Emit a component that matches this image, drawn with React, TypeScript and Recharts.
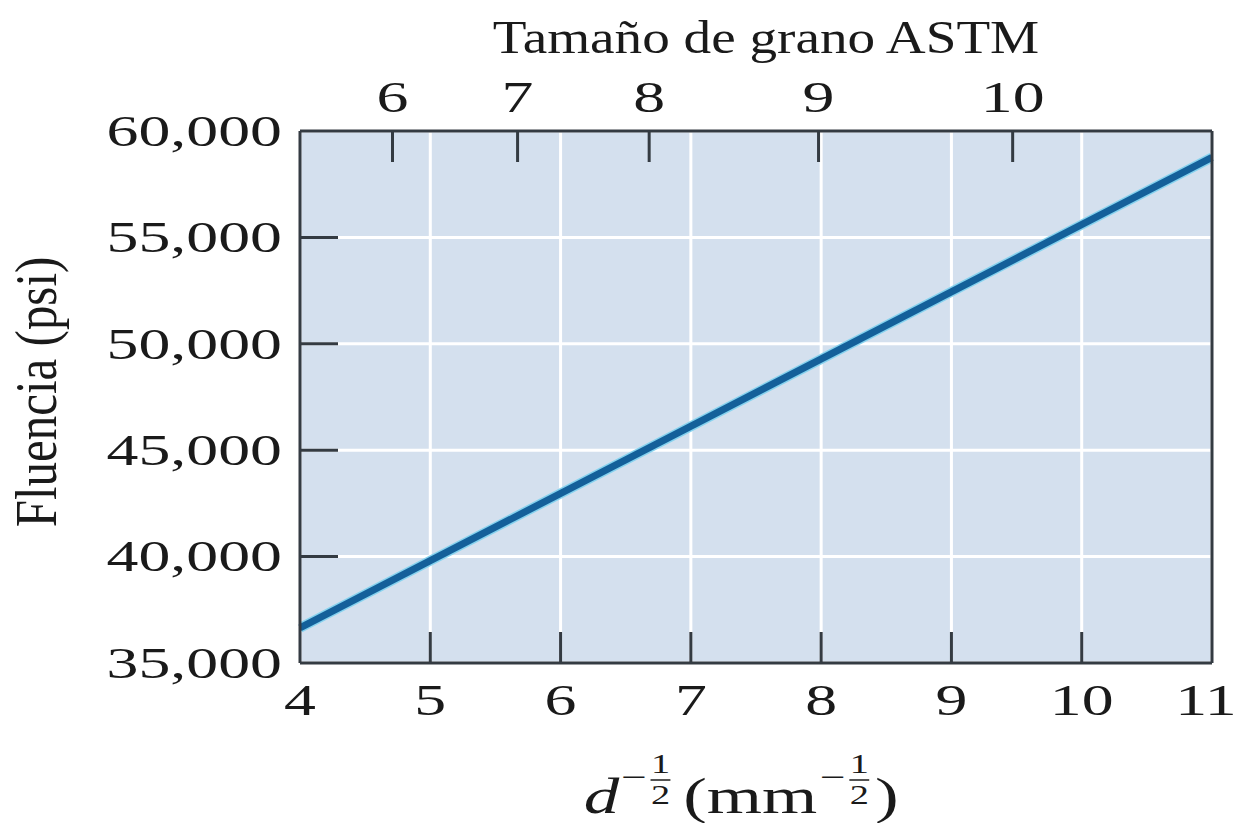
import React from 'react';
import {
  ComposedChart,
  Line,
  XAxis,
  YAxis,
  CartesianGrid,
} from 'recharts';

// d^-1/2 (mm^-1/2) vs yield strength (psi), straight Hall-Petch line
const dInv = [4, 11];
const yieldPsi = [36650, 58760];

const xTicks = [4, 5, 6, 7, 8, 9, 10, 11];
const yTicks = [35000, 40000, 45000, 50000, 55000, 60000];

// ASTM grain size numbers placed on the top axis at their d^-1/2 position
const astmPos = [4.71, 5.67, 6.68, 7.98, 9.47];
const astmLabels = ['6', '7', '8', '9', '10'];

const data = dInv.map((x, i) => ({ x, y: yieldPsi[i] }));

const FONT = '"Liberation Serif", "DejaVu Serif", serif';
const INK = '#1a1a1a';
const AXIS = '#343b42';
const STRETCH = 1.45;

// wide serif text, the print is squashed horizontally by STRETCH
function Wide({ x, y, size, anchor, children, sx = STRETCH }: any) {
  return (
    <g transform={`translate(${x},${y}) scale(${sx},1)`}>
      <text
        x={0}
        y={0}
        fontFamily={FONT}
        fontSize={size}
        fill={INK}
        textAnchor={anchor}
        dominantBaseline="central"
      >
        {children}
      </text>
    </g>
  );
}

const fmt = (v: number) => v.toLocaleString('en-US');

const BottomTick = ({ x, y, payload }: any) => {
  const v = payload.value;
  // last label is pulled in a little so it stays on the page
  const tx = v === 11 ? x - 6 : x;
  return (
    <g>
      {v > 4 && v < 11 && (
        <line x1={x} x2={x} y1={y} y2={y - 31} stroke={AXIS} strokeWidth={3} />
      )}
      <Wide x={tx} y={y + 37} size={44} anchor="middle">
        {v}
      </Wide>
    </g>
  );
};

const LeftTick = ({ x, y, payload }: any) => (
  <g>
    {payload.value > 35000 && payload.value < 60000 && (
      <line x1={x} x2={x + 38} y1={y} y2={y} stroke={AXIS} strokeWidth={3} />
    )}
    <Wide x={x - 18} y={y} size={44} anchor="end">
      {fmt(payload.value)}
    </Wide>
  </g>
);

const TopTick = ({ x, y, index }: any) => (
  <g>
    <line x1={x} x2={x} y1={y} y2={y + 31} stroke={AXIS} strokeWidth={3} />
    <Wide x={x} y={y - 34} size={44} anchor="middle">
      {astmLabels[index]}
    </Wide>
  </g>
);

const TopTitle = ({ viewBox }: any) => {
  const cx = viewBox.x + viewBox.width / 2;
  return (
    <Wide x={cx + 10} y={38} size={46} anchor="middle" sx={1.2}>
      Tamaño de grano ASTM
    </Wide>
  );
};

const YTitle = ({ viewBox }: any) => {
  const cy = viewBox.y + viewBox.height / 2;
  return (
    <g transform={`translate(36,${cy - 5}) scale(1.2,1) rotate(-90)`}>
      <text
        x={0}
        y={0}
        fontFamily={FONT}
        fontSize={49}
        fill={INK}
        textAnchor="middle"
        dominantBaseline="central"
      >
        Fluencia (psi)
      </text>
    </g>
  );
};

// d^{-1/2} (mm^{-1/2}) with stacked fractions in the exponents
const Frac = ({ cx }: { cx: number }) => (
  <g>
    <text x={cx} y={-40} fontSize={27} textAnchor="middle">1</text>
    <line x1={cx - 7} x2={cx + 7} y1={-33} y2={-33} stroke={INK} strokeWidth={1.5} />
    <text x={cx} y={-9} fontSize={27} textAnchor="middle">2</text>
  </g>
);

const XTitle = ({ viewBox }: any) => {
  const cx = viewBox.x + viewBox.width / 2;
  return (
    <g
      transform={`translate(${cx - 16 - 110 * 1.42},813) scale(1.42,1)`}
      fontFamily={FONT}
      fill={INK}
    >
      <text x={0} y={0} fontSize={50} fontStyle="italic">d</text>
      <text x={26} y={-25} fontSize={32}>−</text>
      <Frac cx={54} />
      <text x={70} y={0} fontSize={50}>(mm</text>
      <text x={166} y={-25} fontSize={32}>−</text>
      <Frac cx={194} />
      <text x={205} y={0} fontSize={50}>)</text>
    </g>
  );
};

export default function App() {
  return (
    <div style={{ position: 'absolute', left: 0, top: 0 }}>
      <ComposedChart
        width={1239}
        height={823}
        data={data}
        margin={{ top: 0, right: 0, bottom: 0, left: 0 }}
      >
        <CartesianGrid
          fill="#d4e0ee"
          stroke="#ffffff"
          strokeWidth={3}
          horizontalValues={yTicks}
          verticalValues={xTicks}
        />
        <XAxis
          dataKey="x"
          type="number"
          domain={[4, 11]}
          ticks={xTicks}
          interval={0}
          height={160}
          tickSize={0}
          tickMargin={0}
          tickLine={false}
          axisLine={{ stroke: AXIS, strokeWidth: 3 }}
          tick={<BottomTick />}
          label={<XTitle />}
        />
        <XAxis
          xAxisId="top"
          dataKey="x"
          orientation="top"
          type="number"
          domain={[4, 11]}
          allowDataOverflow
          ticks={astmPos}
          interval={0}
          height={131}
          tickSize={0}
          tickMargin={0}
          tickLine={false}
          axisLine={{ stroke: AXIS, strokeWidth: 3 }}
          tick={<TopTick />}
          label={<TopTitle />}
        />
        <YAxis
          type="number"
          domain={[35000, 60000]}
          ticks={yTicks}
          interval={0}
          width={300}
          tickSize={0}
          tickMargin={0}
          tickLine={false}
          axisLine={{ stroke: AXIS, strokeWidth: 3 }}
          tick={<LeftTick />}
          label={<YTitle />}
        />
        <YAxis
          yAxisId="right"
          orientation="right"
          type="number"
          domain={[35000, 60000]}
          allowDataOverflow
          width={27}
          tick={false}
          tickLine={false}
          axisLine={{ stroke: AXIS, strokeWidth: 3 }}
        />
        {/* light halo drawn against the top axis, same domain as the bottom one */}
        <Line
          xAxisId="top"
          dataKey="y"
          type="linear"
          stroke="#86d2ee"
          strokeWidth={10}
          dot={false}
          isAnimationActive={false}
        />
        <Line
          dataKey="y"
          type="linear"
          stroke="#14609a"
          strokeWidth={7}
          dot={false}
          isAnimationActive={false}
        />
      </ComposedChart>
    </div>
  );
}
